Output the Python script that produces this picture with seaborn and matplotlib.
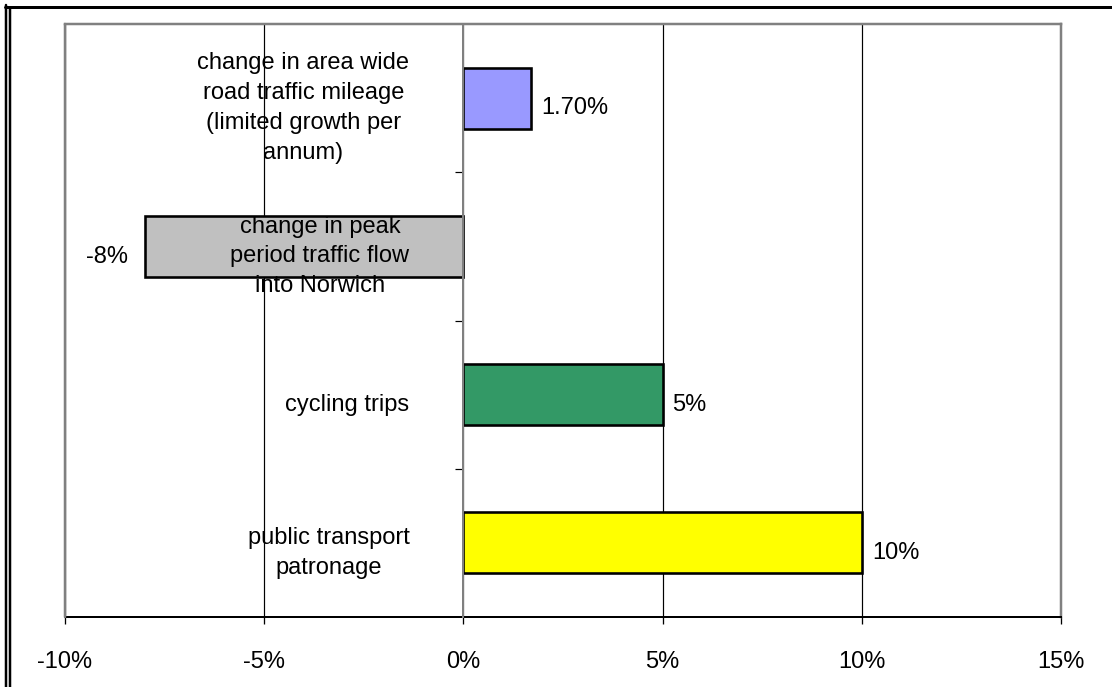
import matplotlib
matplotlib.use("Agg")
import matplotlib.pyplot as plt
from matplotlib.lines import Line2D
import numpy as np
import pandas as pd
import seaborn as sns

# ---- data ----
categories = [
    "change in area wide\nroad traffic mileage\n(limited growth per\nannum)",
    "change in peak\nperiod traffic flow\ninto Norwich",
    "cycling trips",
    "public transport\npatronage",
]
values = [1.7, -8, 5, 10]
value_labels = ["1.70%", "-8%", "5%", "10%"]
bar_colors = ["#9999FF", "#C0C0C0", "#339966", "#FFFF00"]
x_ticks = [-10, -5, 0, 5, 10, 15]
x_tick_labels = ["-10%", "-5%", "0%", "5%", "10%", "15%"]

sns.set_theme(style="white")
plt.rcParams["font.family"] = ["Liberation Sans", "DejaVu Sans"]

W, H, DPI = 1112, 687, 100
PX = 72.0 / DPI  # points per pixel
FS = 23.6 * PX

fig = plt.figure(figsize=(W / DPI, H / DPI), dpi=DPI)
fig.patch.set_facecolor("white")
ax = fig.add_axes([65 / W, 1 - 617 / H, 996 / W, 593 / H])
ax.set_facecolor("white")

df = pd.DataFrame({"category": categories, "value": values})
sns.barplot(data=df, y="category", x="value", hue="category",
            palette=bar_colors, orient="h", width=0.41, saturation=1,
            edgecolor="black", linewidth=2.6 * PX, legend=False, ax=ax)

ax.set_xlim(-10, 15)
ax.set_ylim(len(categories) - 0.5, -0.5)
ax.set_xticks(x_ticks)
ax.set_xticklabels(x_tick_labels, fontsize=FS, color="black")
ax.set_xlabel("")
ax.set_ylabel("")

# y axis sits at zero
ax.set_yticks(range(len(categories)))
ax.set_yticklabels([""] * len(categories))
ax.set_yticks([i + 0.5 for i in range(len(categories) - 1)], minor=True)
ax.tick_params(axis="y", which="major", length=0)
ax.tick_params(axis="y", which="minor", left=True, length=8 * PX,
               width=1.2 * PX, color="black", direction="out")
ax.tick_params(axis="x", which="major", bottom=True, length=6.5 * PX,
               width=1.3 * PX, color="black", direction="out", pad=27 * PX)
ax.spines["left"].set_position(("data", 0))
ax.spines["left"].set_color("#808080")
ax.spines["left"].set_linewidth(2 * PX)
ax.spines["left"].set_zorder(3)
for s in ["top", "right"]:
    ax.spines[s].set_color("#808080")
    ax.spines[s].set_linewidth(2.5 * PX)
ax.spines["bottom"].set_color("black")
ax.spines["bottom"].set_linewidth(2 * PX)

ax.set_axisbelow(True)
ax.xaxis.grid(True, color="black", linewidth=1.2 * PX)
ax.yaxis.grid(False)

# left frame border of plot area
ax.add_line(Line2D([0, 0], [0, 1], transform=ax.transAxes, color="#808080",
                   linewidth=2.5 * PX, zorder=3, clip_on=False))

# value labels
for i, (v, lab) in enumerate(zip(values, value_labels)):
    if v >= 0:
        ax.annotate(lab, xy=(v, i), xytext=(10 * PX, -10 * PX),
                    textcoords="offset points", ha="left", va="center",
                    fontsize=FS, color="black", zorder=5)
    else:
        ax.annotate(lab, xy=(v, i), xytext=(-17 * PX, -11 * PX),
                    textcoords="offset points", ha="right", va="center",
                    fontsize=FS, color="black", zorder=5)

# category labels next to the zero axis
for i, cat in enumerate(categories):
    ax.annotate(cat, xy=(0, i), xytext=(-54 * PX, -10 * PX),
                textcoords="offset points", ha="right", va="center",
                multialignment="center", linespacing=1.46,
                fontsize=FS, color="black", zorder=4)

# outer figure border (double line on left, thick top)
fig.add_artist(Line2D([5 / W, 1], [1 - 6.5 / H, 1 - 6.5 / H],
                      transform=fig.transFigure, color="black",
                      linewidth=3 * PX))
fig.add_artist(Line2D([6 / W, 6 / W], [0, 1 - 5 / H],
                      transform=fig.transFigure, color="black",
                      linewidth=2.5 * PX))
fig.add_artist(Line2D([10 / W, 10 / W], [0, 1 - 8 / H],
                      transform=fig.transFigure, color="black",
                      linewidth=2.5 * PX))

fig.savefig("out.png", dpi=DPI, facecolor="white")
